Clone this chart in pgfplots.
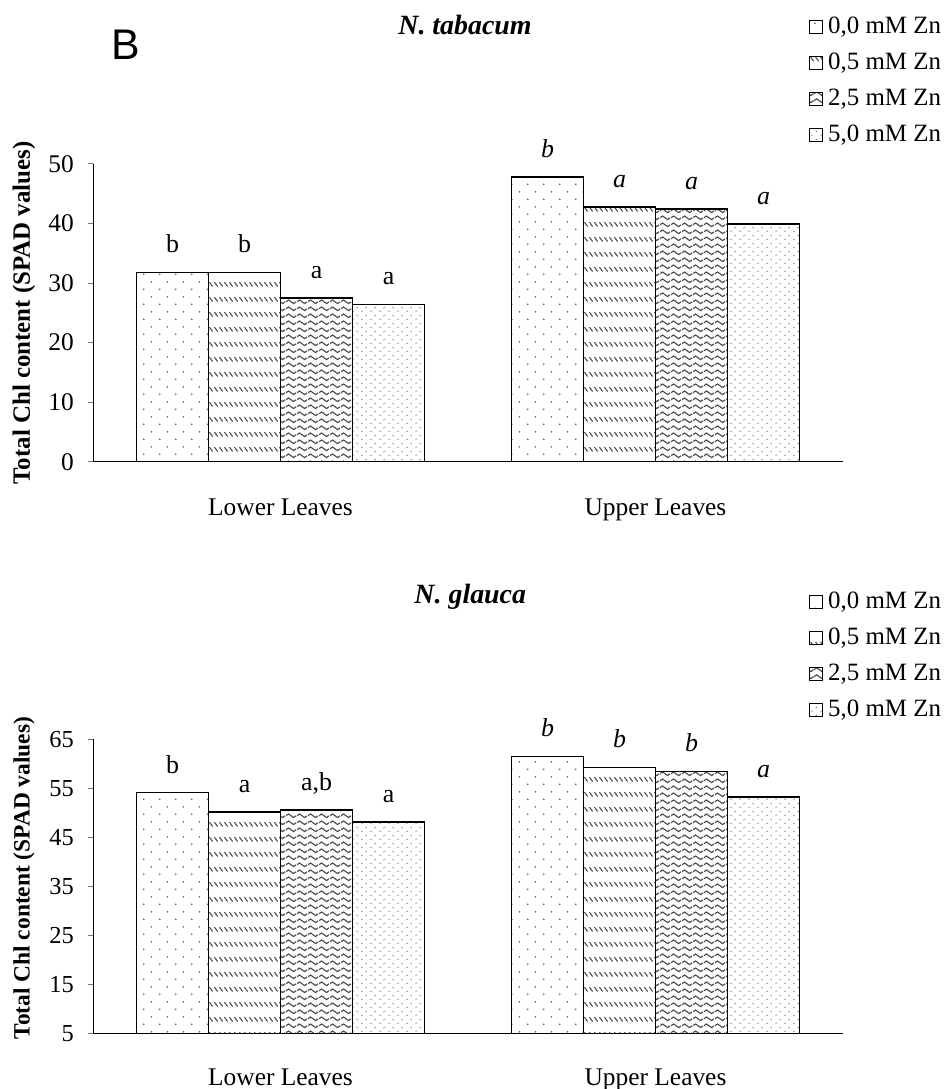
\documentclass[border=0pt]{standalone}
\usepackage{fontspec}
\setmainfont{Liberation Serif}
\newfontfamily\sansfont{Liberation Sans}
\usepackage{pgfplots}
\pgfplotsset{compat=1.18}
\usetikzlibrary{patterns.meta}

\tikzdeclarepattern{
  name=sparsedots, type=uncolored,
  bottom left={(0bp,0bp)}, top right={(15.6bp,15.4bp)},
  tile size={(15.6bp,15.4bp)},
  code={
    \fill (3.9bp,3.85bp) circle (0.9bp);
    \fill (11.7bp,11.55bp) circle (0.9bp);
  }
}
\tikzdeclarepattern{
  name=slashrows, type=uncolored,
  bottom left={(0bp,0bp)}, top right={(5.1bp,15bp)},
  tile size={(5.1bp,15bp)},
  code={
    \draw[line width=1.2bp] (0.6bp,12.5bp) -- (4.2bp,8bp);
  }
}
\tikzdeclarepattern{
  name=wavy, type=uncolored,
  bottom left={(0bp,0bp)}, top right={(11bp,6.7bp)},
  tile size={(11bp,6.7bp)},
  code={
    \draw[line width=1.2bp] (0bp,3.35bp) sin (2.75bp,5.2bp) cos (5.5bp,3.35bp) sin (8.25bp,1.5bp) cos (11bp,3.35bp);
  }
}
\tikzdeclarepattern{
  name=densedots, type=uncolored,
  bottom left={(0bp,0bp)}, top right={(9bp,8bp)},
  tile size={(9bp,8bp)},
  code={
    \fill (2.25bp,2bp) circle (0.8bp);
    \fill (6.75bp,6bp) circle (0.8bp);
  }
}

\newcommand{\fs}[1]{\fontsize{#1}{#1}\selectfont}

\pgfplotsset{
  chlaxis/.style={
    scale only axis, width=750bp,
    xmin=-0.5, xmax=1.5,
    axis x line*=bottom, axis y line*=left,
    axis line style={line width=1bp, black},
    ybar=0pt, bar width=72bp,
    xtick={0,1}, xticklabels={Lower Leaves, Upper Leaves},
    x tick style={draw=none},
    xticklabel style={anchor=base, yshift=-49bp, inner sep=0pt, font=\fs{25.5}},
    y tick style={draw=black!55, line width=1bp},
    tick align=outside, major tick length=5bp,
    yticklabel style={font=\fs{25.5}, anchor=east, inner sep=0pt, xshift=-14bp},
    /pgf/number format/assume math mode=true,
    point meta=explicit symbolic,
    nodes near coords,
    every node near coord/.append style={font=\fs{26}, anchor=base, yshift=19.7bp, inner sep=0pt},
    legend image code/.code={\draw[##1, line width=1bp] (0bp,-6.5bp) rectangle (13bp,6.5bp);},
    legend style={draw=none, fill=none, anchor=north west, font=\fs{25},
      row sep=12bp, inner sep=0pt, column sep=5bp,
      nodes={inner sep=0pt, text height=18bp, text depth=6bp}},
    legend cell align=left,
    ylabel style={anchor=center, font=\bfseries\fs{25}},
    title style={anchor=base, font=\bfseries\itshape\fs{28}},
  },
  b1/.style={draw=black, line width=1.4bp, pattern=sparsedots, pattern color=black!65},
  b2/.style={draw=black, line width=1.4bp, pattern=slashrows, pattern color=black!70},
  b3/.style={draw=black, line width=1.4bp, pattern=wavy, pattern color=black!70},
  b4/.style={draw=black, line width=1.4bp, pattern=densedots, pattern color=black!60},
}

\begin{document}
\begin{tikzpicture}
\useasboundingbox (0bp,0bp) rectangle (947bp,1089bp);

\begin{axis}[chlaxis,
  at={(93bp,627.3bp)}, anchor=south west,
  height=297.7bp, ymin=0, ymax=50, ytick={0,10,...,50},
  ylabel={Total Chl content (SPAD values)},
  ylabel style={at={(axis description cs:-0.092,0.5)}},
  title={N. tabacum},
  title style={at={(axis description cs:0.496,1.4165)}},
  legend style={at={(axis description cs:0.9547,1.5005)}},
]
\addplot[b1] coordinates {(0,31.8) [b] (1,47.8) [\textit{b}]};
\addlegendentry{0,0 mM Zn}
\addplot[b2] coordinates {(0,31.8) [b] (1,42.8) [\textit{a}]};
\addlegendentry{0,5 mM Zn}
\addplot[b3] coordinates {(0,27.5) [a] (1,42.45) [\textit{a}]};
\addlegendentry{2,5 mM Zn}
\addplot[b4] coordinates {(0,26.45) [a] (1,39.95) [\textit{a}]};
\addlegendentry{5,0 mM Zn}
\end{axis}

\begin{axis}[chlaxis,
  at={(93bp,55.7bp)}, anchor=south west,
  height=294bp, ymin=5, ymax=65, ytick={5,15,...,65},
  ylabel={Total Chl content (SPAD values)},
  ylabel style={at={(axis description cs:-0.092,0.528)}, font=\bfseries\fs{23.5}},
  title={N. glauca},
  title style={at={(axis description cs:0.503,1.44)}},
  legend style={at={(axis description cs:0.9547,1.508)}},
  yticklabel style={font=\fs{24.5}},
  xticklabel style={yshift=2bp},
]
\addplot[b1] coordinates {(0,54.1) [b] (1,61.45) [\textit{b}]};
\addlegendentry{0,0 mM Zn}
\addplot[b2] coordinates {(0,50.2) [a] (1,59.3) [\textit{b}]};
\addlegendentry{0,5 mM Zn}
\addplot[b3] coordinates {(0,50.6) [{a,b}] (1,58.4) [\textit{b}]};
\addlegendentry{2,5 mM Zn}
\addplot[b4] coordinates {(0,48.1) [a] (1,53.2) [\textit{a}]};
\addlegendentry{5,0 mM Zn}
\end{axis}

\node[anchor=base west, inner sep=0pt, font=\sansfont\fs{43}] at (111bp,1029bp) {B};
\end{tikzpicture}
\end{document}
